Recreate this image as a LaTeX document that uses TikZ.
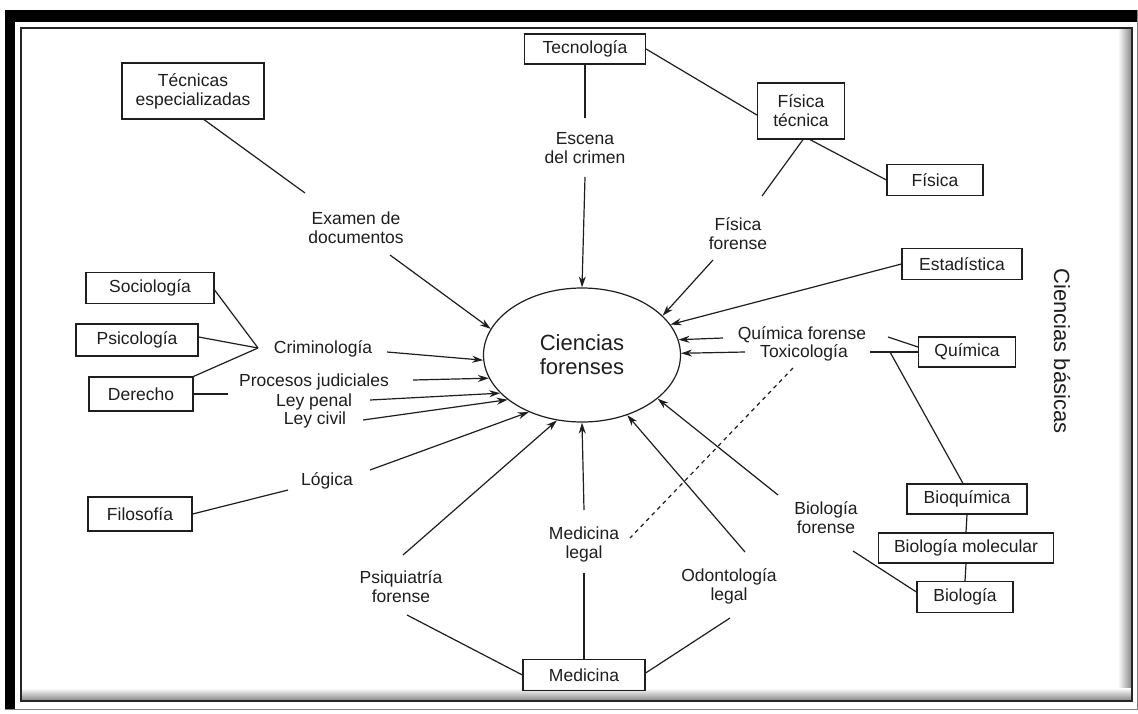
\documentclass[tikz,border=0pt]{standalone}
\usepackage{fontspec}
\setmainfont{Liberation Sans}
\usetikzlibrary{arrows.meta,shapes.geometric}
\definecolor{ink}{HTML}{1E1E1E}
\begin{document}
\begin{tikzpicture}[x=1pt,y=-1pt,
  box/.style={draw=ink,line width=1.2pt,inner sep=0pt,align=center,font=\fontsize{17.5}{19}\selectfont,text=ink},
  lbl/.style={inner sep=0pt,align=center,font=\fontsize{17.5}{19}\selectfont,text=ink},
  ln/.style={draw=ink,line width=1.2pt},
  arr/.style={ln,-{Stealth[length=11pt,width=7pt]}},
  dsh/.style={draw=ink,line width=1.2pt,dash pattern=on 4pt off 4pt}]
\useasboundingbox (0,0) rectangle (1138,713);
\fill[white] (0,0) rectangle (1138,713);
% frame
\fill[black] (5,10) rectangle (1137,22);
\fill[black] (5,10) rectangle (15,709);
\draw[gray,line width=0.8pt] (5,709) -- (1137,709) -- (1137,10);
\shade[left color=white,right color=black!45] (1118,29) rectangle (1131,700);
\shade[top color=white,bottom color=black!45] (22,688) rectangle (1131,700);
\draw[black!85,line width=2pt] (21,28) rectangle (1132,701);

% central ellipse
\node[draw=ink,ellipse,line width=1.2pt,minimum width=197pt,minimum height=134pt,inner sep=0pt,align=center,text=ink,font=\fontsize{22}{24}\selectfont] (cf) at (582,355) {Ciencias\\forenses};

% boxes
\node[box,minimum width=142pt,minimum height=56pt] (tesp) at (193,91) {Técnicas\\especializadas};
\node[box,minimum width=121pt,minimum height=30pt] (tec) at (585,49) {Tecnología};
\node[box,minimum width=87pt,minimum height=56pt] (ftec) at (801,111) {Física\\técnica};
\node[box,minimum width=96pt,minimum height=31pt] (fis) at (935,180) {Física};
\node[box,minimum width=120pt,minimum height=31pt] (est) at (962,264) {Estadística};
\node[box,minimum width=97pt,minimum height=30pt] (qui) at (967,352) {Química};
\node[box,minimum width=120pt,minimum height=30pt] (bioq) at (967,499) {Bioquímica};
\node[box,minimum width=175pt,minimum height=30pt] (bmol) at (966,548) {Biología molecular};
\node[box,minimum width=96pt,minimum height=31pt] (bio) at (965,597) {Biología};
\node[box,minimum width=122pt,minimum height=31pt] (med) at (584,675) {Medicina};
\node[box,minimum width=104pt,minimum height=34pt] (filo) at (140,514) {Filosofía};
\node[box,minimum width=128pt,minimum height=31pt] (soc) at (150,288) {Sociología};
\node[box,minimum width=122pt,minimum height=32pt] (psi) at (137,340) {Psicología};
\node[box,minimum width=104pt,minimum height=34pt] (der) at (141,394) {Derecho};

% labels
\node[lbl] (exam) at (356,228) {Examen de\\documentos};
\node[lbl] (esc) at (585,148) {Escena\\del crimen};
\node[lbl] (ff) at (738,234) {Física\\forense};
\node[lbl] (qf) at (802,335) {Química forense};
\node[lbl] (tox) at (804,353) {Toxicología};
\node[lbl] (bf) at (826,518) {Biología\\forense};
\node[lbl] (od) at (729,586) {Odontología\\legal};
\node[lbl] (ml) at (584,544) {Medicina\\legal};
\node[lbl] (psq) at (401,587) {Psiquiatría\\forense};
\node[lbl] (log) at (327,481) {Lógica};
\node[lbl] (lc) at (315,420) {Ley civil};
\node[lbl] (lp) at (314,402) {Ley penal};
\node[lbl] (pj) at (314,382) {Procesos judiciales};
\node[lbl] (crim) at (323,349) {Criminología};
\node[lbl,rotate=-90,font=\fontsize{22}{24}\selectfont] (cb) at (1062,351) {Ciencias básicas};

\coordinate (jq) at (890,352);

% plain connectors
\draw[ln] ([shift={(11,0)}]tesp.south) -- ([shift={(-51,-35)}]exam.center);
\draw[ln] (tec.south) -- ([shift={(0,-30)}]esc.center);
\draw[ln] (tec.east) -- ([shift={(0,4)}]ftec.west);
\draw[ln] ([shift={(9,0)}]ftec.south) -- (fis.west);
\draw[ln] ([shift={(2,0)}]ftec.south) -- ([shift={(24,-38)}]ff.center);
\draw[ln] ([shift={(86,2)}]qf.center) -- ([shift={(0,-5)}]qui.west);
\draw[ln] ([shift={(66,-1)}]tox.center) -- (qui.west);
\draw[ln] ([shift={(-4,0)}]bioq.north) -- (jq);
\draw[ln] (bioq.south) -- (bmol.north);
\draw[ln] (bmol.south) -- (bio.north);
\draw[ln] ([shift={(27,33)}]bf.center) -- ([shift={(0,-5)}]bio.west);
\draw[ln] ([shift={(1,32)}]od.center) -- ([shift={(0,-2)}]med.east);
\draw[ln] (med.north) -- ([shift={(0,29)}]ml.center);
\draw[ln] ([shift={(6,28)}]psq.center) -- (med.west);
\draw[ln] (filo.east) -- ([shift={(-39,9)}]log.center);
\draw[ln] ([shift={(0,2)}]soc.east) -- ([shift={(-65,-1)}]crim.center);
\draw[ln] ([shift={(0,-3)}]psi.east) -- ([shift={(-65,-1)}]crim.center);
\draw[ln] (der.north east) -- ([shift={(-65,-1)}]crim.center);
\draw[ln] (der.east) -- ([shift={(-86,12)}]pj.center);
\draw[dsh] ([shift={(-11,15)}]tox.center) -- ([shift={(46,-6)}]ml.center);

% arrows into the ellipse
\draw[arr] ([shift={(34,27)}]exam.center) -- (cf.164.3);
\draw[arr] ([shift={(0,29)}]esc.center) -- (cf.90);
\draw[arr] ([shift={(-25,26)}]ff.center) -- (cf.26);
\draw[arr] (est.west) -- (cf.19.4);
\draw[arr] ([shift={(-79,3)}]qf.center) -- (cf.9.8);
\draw[arr] ([shift={(-59,-1)}]tox.center) -- (cf.1.7);
\draw[arr] ([shift={(-48,-23)}]bf.center) -- (cf.-30.4);
\draw[arr] ([shift={(16,-34)}]od.center) -- (cf.-53.3);
\draw[arr] ([shift={(0,-34)}]ml.center) -- (cf.270);
\draw[arr] ([shift={(2,-32)}]psq.center) -- (cf.249.1);
\draw[arr] ([shift={(43,-11)}]log.center) -- (cf.227.5);
\draw[arr] ([shift={(48,0)}]lc.center) -- (cf.211.3);
\draw[arr] ([shift={(56,-2)}]lp.center) -- (cf.205.7);
\draw[arr] ([shift={(99,-2)}]pj.center) -- (cf.194.2);
\draw[arr] ([shift={(64,3)}]crim.center) -- (cf.183.9);
\end{tikzpicture}
\end{document}
